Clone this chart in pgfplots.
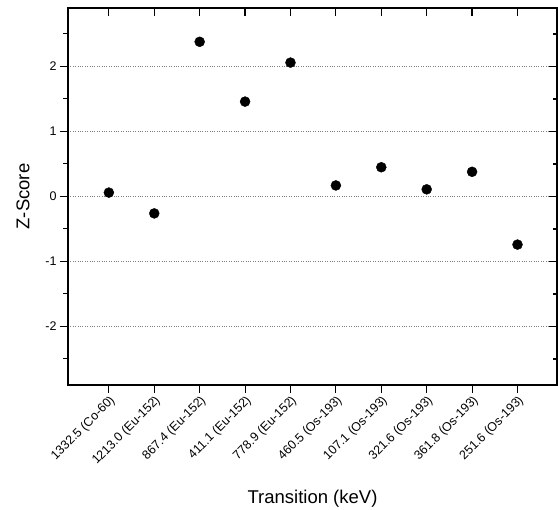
\documentclass[border=0pt]{standalone}
\usepackage{pgfplots}
\pgfplotsset{compat=1.18}
\usepackage{fontspec}
\setmainfont{Liberation Sans}
\begin{document}
\begin{tikzpicture}
\pgfplotsset{common/.style={
  scale only axis,
  width=489pt, height=377pt,
  xmin=-0.9, xmax=9.87,
  ymin=-2.9, ymax=2.9,
  xtick={0,1,2,3,4,5,6,7,8,9},
  ytick={-2,-1,0,1,2},
  minor ytick={-2.5,-1.5,-0.5,0.5,1.5,2.5},
  major tick length=8pt,
  minor tick length=4.5pt,
  tick style={black, line width=1pt},
  axis line style={line width=1.1pt},
}}
\begin{axis}[
  common,
  name=ax,
  xticklabels={1332.5 (Co-60),1213.0 (Eu-152),867.4 (Eu-152),411.1 (Eu-152),778.9 (Eu-152),460.5 (Os-193),107.1 (Os-193),321.6 (Os-193),361.8 (Os-193),251.6 (Os-193)},
  xticklabel style={rotate=45, anchor=north east, inner sep=1pt, font=\fontsize{12.5}{14}\selectfont},
  yticklabel style={font=\fontsize{12.5}{14}\selectfont},
  /pgf/number format/assume math mode=true,
  tick align=outside,
  tick pos=left,
  ymajorgrids,
  major grid style={dotted, gray, line width=0.8pt},
  xlabel={Transition (keV)},
  ylabel={Z-Score},
  label style={font=\fontsize{18.5}{20}\selectfont},
  xlabel style={yshift=-18pt},
  ylabel style={yshift=9pt},
]
\addplot[only marks, mark=*, mark size=5pt, black] coordinates {
(0,0.06) (1,-0.26) (2,2.38) (3,1.46) (4,2.06) (5,0.17) (6,0.45) (7,0.11) (8,0.38) (9,-0.74)
};
\end{axis}
\begin{axis}[
  common,
  at={(ax.south west)}, anchor=south west,
  xtick align=inside, ytick align=inside,
  xtick pos=top, ytick pos=right,
  xticklabels={}, yticklabels={},
  tick style={black, line width=1.2pt},
]
\addplot[draw=none, forget plot] coordinates {(0,0) (9,0)};
\end{axis}
\pgfresetboundingbox
\path ([shift={(-68pt,-125pt)}]ax.south west) rectangle ([shift={(1pt,8pt)}]ax.north east);
\end{tikzpicture}
\end{document}
